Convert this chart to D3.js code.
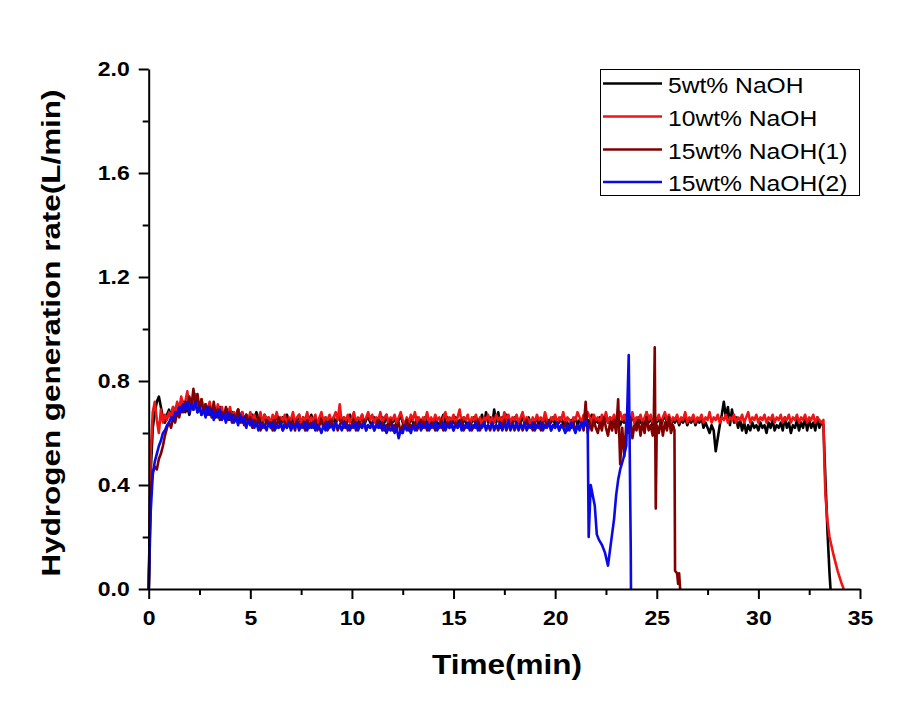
<!DOCTYPE html>
<html><head><meta charset="utf-8">
<script src="https://cdn.jsdelivr.net/npm/d3@7/dist/d3.min.js"></script>
<style>body{margin:0;background:#fff}svg{display:block}</style>
</head><body>
<svg id="chart" width="907" height="702"></svg>
<script>
// ---------------- data ----------------
const seriesNames = ["5wt% NaOH", "10wt% NaOH", "15wt% NaOH(1)", "15wt% NaOH(2)"];
const sampleStep = 0.1; // minutes between regular samples (start at t = 0)

// 5wt% NaOH : regular samples t = 0.0 ... 33.1
const naoh5 = [
0.00,0.45,0.62,0.68,0.72,0.74,0.70,0.66,0.64,0.67,
0.69,0.66,0.70,0.68,0.71,0.67,0.70,0.72,0.68,0.70,
0.67,0.71,0.69,0.72,0.68,0.70,0.67,0.69,0.71,0.68,
0.70,0.67,0.69,0.66,0.68,0.70,0.66,0.68,0.67,0.69,
0.66,0.68,0.65,0.67,0.69,0.66,0.68,0.65,0.67,0.66,
0.64,0.67,0.65,0.68,0.64,0.66,0.63,0.67,0.65,0.66,
0.63,0.66,0.64,0.67,0.65,0.63,0.66,0.64,0.67,0.65,
0.63,0.66,0.64,0.65,0.67,0.63,0.66,0.64,0.62,0.65,
0.67,0.64,0.66,0.63,0.65,0.67,0.64,0.66,0.63,0.65,
0.64,0.66,0.63,0.67,0.65,0.64,0.66,0.63,0.65,0.67,
0.64,0.66,0.63,0.65,0.64,0.67,0.63,0.65,0.66,0.64,
0.63,0.66,0.64,0.65,0.63,0.66,0.64,0.67,0.63,0.65,
0.64,0.66,0.63,0.65,0.67,0.64,0.62,0.65,0.63,0.66,
0.64,0.63,0.66,0.64,0.65,0.63,0.66,0.64,0.62,0.65,
0.63,0.66,0.64,0.63,0.65,0.67,0.64,0.66,0.63,0.65,
0.64,0.66,0.63,0.65,0.62,0.66,0.64,0.63,0.65,0.64,
0.66,0.63,0.65,0.64,0.67,0.63,0.68,0.64,0.66,0.63,
0.69,0.64,0.68,0.62,0.66,0.64,0.67,0.63,0.65,0.64,
0.66,0.63,0.65,0.64,0.67,0.63,0.65,0.66,0.63,0.65,
0.64,0.66,0.63,0.65,0.64,0.66,0.63,0.65,0.64,0.66,
0.63,0.65,0.64,0.66,0.63,0.65,0.64,0.62,0.65,0.64,
0.66,0.63,0.65,0.64,0.66,0.63,0.65,0.64,0.67,0.63,
0.65,0.64,0.66,0.63,0.65,0.67,0.64,0.66,0.63,0.65,
0.64,0.66,0.63,0.65,0.64,0.67,0.63,0.65,0.66,0.64,
0.63,0.66,0.64,0.65,0.63,0.68,0.64,0.66,0.63,0.65,
0.64,0.66,0.63,0.65,0.67,0.64,0.66,0.63,0.65,0.64,
0.66,0.63,0.65,0.64,0.66,0.63,0.65,0.64,0.66,0.63,
0.65,0.64,0.66,0.62,0.64,0.62,0.60,0.63,0.61,0.53,
0.58,0.63,0.67,0.72,0.66,0.70,0.63,0.69,0.64,0.66,
0.62,0.65,0.61,0.64,0.60,0.63,0.61,0.64,0.62,0.63,
0.61,0.64,0.62,0.63,0.60,0.64,0.62,0.65,0.61,0.63,
0.62,0.64,0.61,0.66,0.62,0.64,0.60,0.63,0.62,0.65,
0.61,0.64,0.62,0.66,0.61,0.65,0.62,0.64,0.61,0.66,
0.62,0.64
];
const naoh5TailT = [33.2, 33.3, 33.4, 33.5, 33.55];
const naoh5TailV = [0.63, 0.42, 0.22, 0.06, 0.00];

// 10wt% NaOH : regular samples t = 0.0 ... 33.1
const naoh10 = [
0.00,0.52,0.68,0.72,0.65,0.60,0.69,0.64,0.67,0.65,
0.68,0.66,0.70,0.67,0.72,0.69,0.74,0.70,0.72,0.76,
0.70,0.73,0.69,0.75,0.71,0.70,0.73,0.68,0.71,0.69,
0.72,0.68,0.70,0.67,0.71,0.68,0.70,0.66,0.69,0.67,
0.70,0.66,0.68,0.65,0.69,0.66,0.68,0.64,0.67,0.65,
0.68,0.65,0.67,0.64,0.66,0.68,0.64,0.67,0.65,0.66,
0.64,0.67,0.65,0.68,0.64,0.66,0.65,0.67,0.63,0.66,
0.65,0.68,0.64,0.66,0.67,0.64,0.66,0.65,0.68,0.64,
0.66,0.65,0.67,0.63,0.66,0.68,0.64,0.66,0.65,0.67,
0.64,0.66,0.68,0.65,0.71,0.64,0.66,0.65,0.67,0.64,
0.66,0.68,0.64,0.66,0.65,0.67,0.64,0.66,0.68,0.65,
0.67,0.64,0.66,0.65,0.68,0.64,0.66,0.67,0.64,0.66,
0.65,0.67,0.64,0.66,0.68,0.65,0.63,0.66,0.64,0.67,
0.65,0.68,0.64,0.66,0.63,0.66,0.65,0.68,0.64,0.66,
0.64,0.67,0.65,0.66,0.63,0.66,0.68,0.64,0.66,0.65,
0.67,0.64,0.66,0.69,0.64,0.66,0.65,0.67,0.63,0.66,
0.65,0.67,0.64,0.66,0.63,0.66,0.65,0.67,0.64,0.66,
0.64,0.67,0.65,0.66,0.64,0.68,0.65,0.67,0.64,0.66,
0.65,0.67,0.64,0.66,0.68,0.64,0.66,0.65,0.63,0.66,
0.64,0.67,0.65,0.66,0.64,0.68,0.65,0.63,0.66,0.65,
0.67,0.64,0.66,0.65,0.68,0.64,0.66,0.65,0.63,0.66,
0.65,0.68,0.66,0.64,0.67,0.65,0.68,0.66,0.64,0.67,
0.65,0.66,0.64,0.67,0.65,0.68,0.64,0.66,0.65,0.67,
0.64,0.66,0.68,0.65,0.67,0.64,0.66,0.65,0.68,0.64,
0.66,0.65,0.67,0.64,0.66,0.68,0.65,0.67,0.64,0.66,
0.65,0.67,0.64,0.66,0.68,0.65,0.67,0.64,0.66,0.65,
0.67,0.64,0.66,0.65,0.68,0.64,0.66,0.65,0.67,0.64,
0.66,0.65,0.67,0.64,0.66,0.65,0.68,0.64,0.66,0.65,
0.67,0.64,0.66,0.65,0.67,0.64,0.66,0.65,0.67,0.64,
0.66,0.65,0.67,0.64,0.66,0.68,0.64,0.66,0.65,0.67,
0.64,0.66,0.65,0.67,0.64,0.66,0.65,0.67,0.64,0.66,
0.65,0.67,0.64,0.66,0.65,0.67,0.64,0.66,0.65,0.67,
0.64,0.66,0.65,0.67,0.64,0.66,0.65,0.67,0.64,0.66,
0.65,0.64
];
const naoh10TailT = [33.2, 33.25, 33.3, 33.4, 33.5, 33.7, 33.9, 34.1, 34.2];
const naoh10TailV = [0.65, 0.48, 0.36, 0.26, 0.20, 0.13, 0.07, 0.02, 0.00];

// 15wt% NaOH(1) : regular samples t = 0.0 ... 24.8
const naoh15a = [
0.00,0.38,0.45,0.47,0.46,0.50,0.52,0.55,0.59,0.62,
0.64,0.62,0.66,0.64,0.68,0.66,0.70,0.68,0.72,0.69,
0.74,0.70,0.77,0.71,0.75,0.69,0.73,0.68,0.71,0.67,
0.70,0.66,0.72,0.67,0.69,0.65,0.68,0.66,0.70,0.65,
0.68,0.64,0.67,0.65,0.69,0.64,0.66,0.63,0.67,0.64,
0.66,0.62,0.65,0.63,0.66,0.61,0.64,0.62,0.65,0.63,
0.64,0.61,0.65,0.62,0.66,0.63,0.61,0.64,0.62,0.65,
0.62,0.64,0.61,0.65,0.63,0.62,0.64,0.61,0.65,0.62,
0.64,0.62,0.65,0.61,0.63,0.65,0.62,0.64,0.61,0.63,
0.65,0.62,0.64,0.61,0.63,0.65,0.62,0.64,0.61,0.63,
0.62,0.65,0.61,0.63,0.64,0.62,0.65,0.61,0.63,0.62,
0.64,0.61,0.63,0.65,0.62,0.64,0.61,0.63,0.62,0.65,
0.61,0.63,0.62,0.64,0.60,0.63,0.62,0.65,0.61,0.63,
0.62,0.64,0.61,0.63,0.65,0.62,0.64,0.61,0.63,0.62,
0.64,0.61,0.63,0.62,0.65,0.61,0.63,0.64,0.62,0.63,
0.61,0.64,0.62,0.63,0.65,0.61,0.63,0.62,0.64,0.61,
0.63,0.62,0.65,0.61,0.63,0.64,0.62,0.63,0.61,0.64,
0.62,0.63,0.61,0.64,0.62,0.65,0.61,0.63,0.62,0.64,
0.61,0.63,0.62,0.64,0.61,0.63,0.65,0.62,0.63,0.61,
0.64,0.62,0.63,0.61,0.64,0.62,0.63,0.65,0.61,0.63,
0.62,0.64,0.61,0.63,0.62,0.64,0.61,0.63,0.62,0.64,
0.61,0.63,0.62,0.64,0.61,0.72,0.60,0.64,0.61,0.65,
0.62,0.60,0.64,0.61,0.66,0.62,0.59,0.64,0.61,0.65,
0.60,0.73,0.48,0.62,0.51,0.64,0.60,0.66,0.58,0.63,
0.61,0.65,0.59,0.64,0.60,0.66,0.61,0.63,0.59
];
const naoh15aTailT = [24.85, 24.9, 24.95, 25.0, 25.1, 25.2, 25.3, 25.4, 25.5, 25.6, 25.7, 25.8, 25.87, 25.9, 26.0, 26.05, 26.1, 26.15];
const naoh15aTailV = [0.62, 0.93, 0.31, 0.63, 0.60, 0.65, 0.59, 0.64, 0.61, 0.66, 0.60, 0.63, 0.61, 0.07, 0.06, 0.02, 0.06, 0.00];

// 15wt% NaOH(2) : regular samples t = 0.0 ... 21.6
const naoh15b = [
0.00,0.30,0.44,0.49,0.52,0.55,0.57,0.60,0.61,0.63,
0.64,0.66,0.65,0.68,0.67,0.70,0.68,0.71,0.69,0.72,
0.68,0.71,0.69,0.72,0.68,0.70,0.67,0.69,0.66,0.70,
0.67,0.69,0.65,0.68,0.66,0.69,0.65,0.67,0.64,0.68,
0.65,0.67,0.64,0.66,0.63,0.67,0.64,0.66,0.62,0.65,
0.63,0.65,0.62,0.64,0.61,0.64,0.62,0.63,0.61,0.64,
0.62,0.64,0.61,0.63,0.62,0.64,0.61,0.63,0.62,0.64,
0.61,0.63,0.62,0.64,0.61,0.63,0.62,0.64,0.61,0.63,
0.62,0.64,0.61,0.63,0.62,0.60,0.63,0.61,0.64,0.62,
0.63,0.61,0.64,0.62,0.63,0.61,0.64,0.62,0.63,0.61,
0.63,0.62,0.64,0.61,0.63,0.62,0.64,0.61,0.63,0.62,
0.64,0.61,0.63,0.62,0.64,0.61,0.63,0.60,0.62,0.61,
0.63,0.60,0.62,0.58,0.61,0.60,0.63,0.61,0.62,0.60,
0.63,0.61,0.62,0.64,0.61,0.63,0.62,0.64,0.61,0.63,
0.62,0.64,0.61,0.63,0.62,0.64,0.61,0.63,0.62,0.64,
0.61,0.63,0.62,0.64,0.61,0.63,0.62,0.64,0.61,0.63,
0.62,0.64,0.61,0.63,0.62,0.64,0.61,0.63,0.62,0.64,
0.61,0.63,0.62,0.64,0.61,0.63,0.62,0.65,0.61,0.63,
0.62,0.64,0.61,0.63,0.62,0.64,0.61,0.63,0.62,0.64,
0.61,0.63,0.62,0.64,0.61,0.63,0.62,0.64,0.61,0.63,
0.62,0.64,0.61,0.63,0.62,0.60,0.63,0.61,0.64,0.62,
0.60,0.63,0.61,0.64,0.62,0.65,0.63
];
const naoh15bTailT = [21.65, 21.75, 21.85, 21.95, 22.05, 22.15, 22.3, 22.45, 22.6, 22.75, 22.9, 23.0, 23.1, 23.2, 23.35, 23.5, 23.62, 23.72, 23.73];
const naoh15bTailV = [0.20, 0.40, 0.36, 0.32, 0.21, 0.19, 0.17, 0.14, 0.09, 0.18, 0.27, 0.36, 0.42, 0.46, 0.50, 0.55, 0.90, 0.15, 0.00];

const seriesColors = ["#000000", "#f01414", "#800000", "#0a0ae6"];

const xTicks = [0, 5, 10, 15, 20, 25, 30, 35];
const xMinorTicks = [2.5, 7.5, 12.5, 17.5, 22.5, 27.5, 32.5];
const yTicks = [0.0, 0.4, 0.8, 1.2, 1.6, 2.0];
const yMinorTicks = [0.2, 0.6, 1.0, 1.4, 1.8];
const xTitle = "Time(min)";
const yTitle = "Hydrogen generation rate(L/min)";

// ---------------- build ----------------
function buildPoints(values, tailT, tailV) {
  const pts = values.map((v, i) => ({t: +(i * sampleStep).toFixed(2), v}));
  tailT.forEach((t, i) => pts.push({t, v: tailV[i]}));
  return pts;
}
const series = [
  buildPoints(naoh5, naoh5TailT, naoh5TailV),
  buildPoints(naoh10, naoh10TailT, naoh10TailV),
  buildPoints(naoh15a, naoh15aTailT, naoh15aTailV),
  buildPoints(naoh15b, naoh15bTailT, naoh15bTailV)
];

const svg = d3.select("#chart");
const FONT = "Arial, 'Liberation Sans', sans-serif";
const STRETCH = 1.15;

const x = d3.scaleLinear().domain([0, 35]).range([148.7, 860]);
const y = d3.scaleLinear().domain([0, 2]).range([589, 69]);

function stretch(sel, factor) {
  sel.each(function () {
    const len = this.getComputedTextLength();
    d3.select(this).attr("textLength", len * factor).attr("lengthAdjust", "spacingAndGlyphs");
  });
}

// lines
const line = d3.line().x(d => x(d.t)).y(d => y(d.v));
const lines = svg.append("g");
series.forEach((s, i) => {
  lines.append("path")
    .datum(s)
    .attr("d", line)
    .attr("fill", "none")
    .attr("stroke", seriesColors[i])
    .attr("stroke-width", 2.6)
    .attr("stroke-linejoin", "round");
});

// x axis
const gx = svg.append("g").attr("transform", `translate(0,${y(0)})`);
gx.call(d3.axisBottom(x).tickValues(xTicks).tickSize(10).tickSizeOuter(0).tickFormat(d3.format("d")));
gx.select(".domain").attr("stroke-width", 2);
gx.selectAll(".tick line").attr("stroke-width", 2);
gx.selectAll(".tick text")
  .attr("y", 36).attr("dy", 0)
  .style("font-family", FONT).style("font-size", "20px").style("font-weight", "bold").attr("fill", "#000");
stretch(gx.selectAll(".tick text"), STRETCH);
const gxm = svg.append("g").attr("transform", `translate(0,${y(0)})`);
gxm.call(d3.axisBottom(x).tickValues(xMinorTicks).tickSize(6).tickSizeOuter(0).tickFormat(""));
gxm.select(".domain").remove();
gxm.selectAll(".tick line").attr("stroke-width", 2);

// y axis
const gy = svg.append("g").attr("transform", `translate(${x(0)},0)`);
gy.call(d3.axisLeft(y).tickValues(yTicks).tickSize(10).tickSizeOuter(0).tickPadding(9).tickFormat(d3.format(".1f")));
gy.select(".domain").attr("stroke-width", 2);
gy.selectAll(".tick line").attr("stroke-width", 2);
gy.selectAll(".tick text")
  .attr("dy", "0.32em")
  .style("font-family", FONT).style("font-size", "20px").style("font-weight", "bold").attr("fill", "#000");
stretch(gy.selectAll(".tick text"), STRETCH);
const gym = svg.append("g").attr("transform", `translate(${x(0)},0)`);
gym.call(d3.axisLeft(y).tickValues(yMinorTicks).tickSize(6).tickSizeOuter(0).tickFormat(""));
gym.select(".domain").remove();
gym.selectAll(".tick line").attr("stroke-width", 2);

// axis titles
const xt = svg.append("text")
  .attr("x", 507).attr("y", 674)
  .attr("text-anchor", "middle")
  .style("font-family", FONT).style("font-size", "27px").style("font-weight", "bold")
  .text(xTitle);
xt.attr("textLength", 150).attr("lengthAdjust", "spacingAndGlyphs");

const yt = svg.append("text")
  .attr("transform", "translate(60,333) rotate(-90)")
  .attr("text-anchor", "middle")
  .style("font-family", FONT).style("font-size", "25px").style("font-weight", "bold")
  .text(yTitle);
yt.attr("textLength", 487).attr("lengthAdjust", "spacingAndGlyphs");

// legend
const legend = svg.append("g");
legend.append("rect")
  .attr("x", 600.5).attr("y", 69.5).attr("width", 259).attr("height", 126)
  .attr("fill", "#fff").attr("stroke", "#000").attr("stroke-width", 1);
const rowY = [83.5, 116.5, 149.5, 182];
seriesNames.forEach((name, i) => {
  legend.append("line")
    .attr("x1", 603).attr("x2", 662)
    .attr("y1", rowY[i]).attr("y2", rowY[i])
    .attr("stroke", seriesColors[i]).attr("stroke-width", 2.5);
  const t = legend.append("text")
    .attr("x", 668).attr("y", rowY[i] + 9)
    .style("font-family", FONT).style("font-size", "22px")
    .text(name);
  stretch(t, 1.12);
});
</script>
</body></html>
